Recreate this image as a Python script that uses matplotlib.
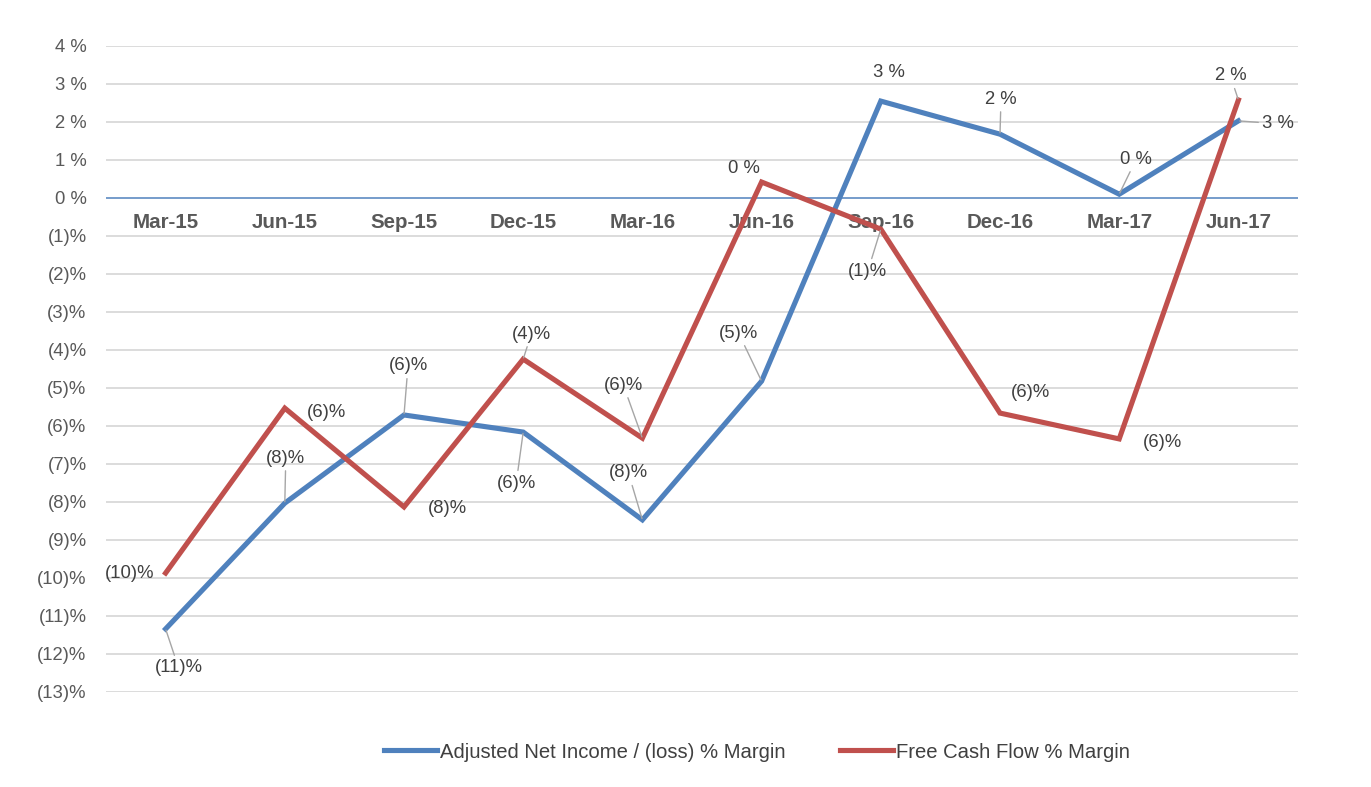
import numpy as np
import matplotlib
matplotlib.use("Agg")
import matplotlib.pyplot as plt

plt.rcParams['font.family'] = ['Liberation Sans', 'DejaVu Sans']

# quarters and series (values in %)
quarters = ['Mar-15', 'Jun-15', 'Sep-15', 'Dec-15', 'Mar-16',
            'Jun-16', 'Sep-16', 'Dec-16', 'Mar-17', 'Jun-17']
net_income = [-11.34, -8.03, -5.71, -6.16, -8.47, -4.82, 2.55, 1.68, 0.10, 2.03]
fcf = [-9.87, -5.53, -8.13, -4.24, -6.32, 0.42, -0.82, -5.66, -6.34, 2.58]

# data labels as printed on the chart
net_income_labels = ['(11)%', '(8)%', '(6)%', '(6)%', '(8)%', '(5)%', '3 %', '2 %', '0 %', '3 %']
fcf_labels = ['(10)%', '(6)%', '(8)%', '(4)%', '(6)%', '0 %', '(1)%', '(6)%', '(6)%', '2 %']

yticks = list(range(-13, 5))
ytick_labels = [('%d %%' % v) if v >= 0 else ('(%d)%%' % -v) for v in yticks]

blue = '#4F81BD'
red = '#C0504D'

fig = plt.figure(figsize=(13.71, 7.87), dpi=100)
ax = fig.add_axes([106 / 1371, 95 / 787, 1192 / 1371, 646 / 787])

x = np.arange(len(quarters))
ax.set_xlim(-0.5, 9.5)
ax.set_ylim(-13, 4)

for v in yticks:
    if v != 0:
        ax.axhline(v, color='#D9D9D9', lw=1.3, zorder=0)
ax.axhline(0, color=blue, lw=1.1, zorder=1)

ax.set_yticks(yticks)
ax.set_yticklabels(ytick_labels, fontsize=13.3, color='#595959')
ax.tick_params(axis='y', length=0, pad=14)
ax.set_xticks([])
for s in ax.spines.values():
    s.set_visible(False)

# category labels sit just below the zero line
for i, q in enumerate(quarters):
    ax.annotate(q, (i, 0), xytext=(0, -18), textcoords='offset points',
                ha='center', va='center', fontsize=14.8, fontweight='bold',
                color='#595959', zorder=1)

ax.plot(x, net_income, color=blue, lw=3.7, solid_joinstyle='miter', zorder=3,
        label='Adjusted Net Income / (loss) % Margin')
ax.plot(x, fcf, color=red, lw=3.7, solid_joinstyle='miter', zorder=3,
        label='Free Cash Flow % Margin')

# label offsets in pixels (dx, dy down) and whether a leader line is drawn
ni_off = [(13, 39, True), (1, -45, True), (4, -49, True), (-7, 51, True), (-14, -47, True),
          (-23, -48, True), (8, -29, False), (1, -35, True), (17, -35, True), (40, 3, True)]
fcf_off = [(-36, 0, False), (42, 4, False), (43, 2, False), (8, -25, True), (-19, -53, True),
           (-18, -14, False), (-13, 42, True), (31, -21, False), (43, 4, False), (-8, -24, True)]


def put_labels(vals, labels, offs):
    for i, (v, t, (dx, dy, lead)) in enumerate(zip(vals, labels, offs)):
        ap = None
        if lead:
            ap = dict(arrowstyle='-', color='#A6A6A6', lw=1.0, shrinkA=1, shrinkB=1)
        ax.annotate(t, (i, v), xytext=(dx * 0.72, -dy * 0.72), textcoords='offset points',
                    ha='center', va='center', fontsize=13.3, color='#404040',
                    arrowprops=ap, zorder=4)


put_labels(net_income, net_income_labels, ni_off)
put_labels(fcf, fcf_labels, fcf_off)

fig.legend(loc='center', bbox_to_anchor=(757 / 1371, 1 - 752 / 787), ncol=2,
           frameon=False, fontsize=14.6, handlelength=2.65, handletextpad=0.15,
           columnspacing=2.65, labelcolor='#404040')

fig.savefig('out.png', dpi=100)
